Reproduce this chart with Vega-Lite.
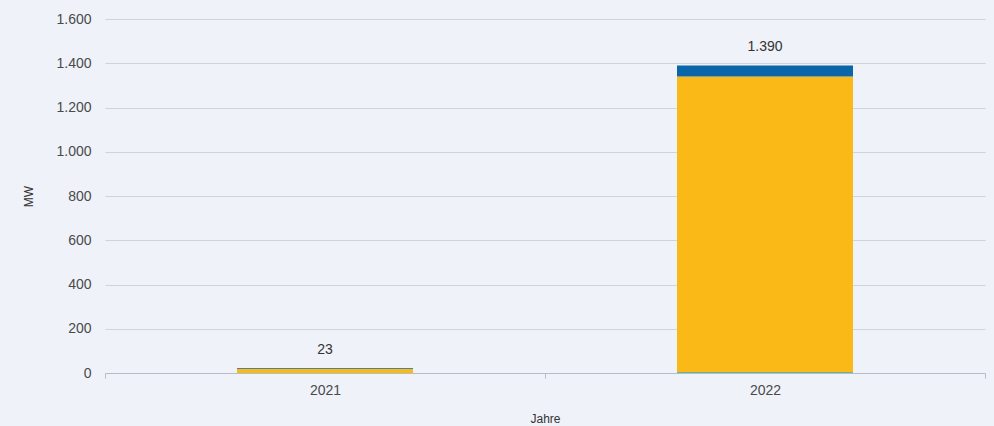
{
  "$schema": "https://vega.github.io/schema/vega-lite/v6.json",
  "autosize": {"type": "none"},
  "width": 880,
  "height": 354,
  "padding": {"left": 105, "top": 19, "right": 9, "bottom": 53},
  "background": "#eff2f9",
  "config": {
    "view": {"stroke": null},
    "font": "Liberation Sans",
    "locale": {"number": {"decimal": ",", "thousands": ".", "grouping": [3], "currency": ["", " €"]}},
    "axis": {"labelFont": "Liberation Sans", "titleFont": "Liberation Sans", "labelColor": "#4a4a4a", "titleColor": "#333333", "labelFontSize": 14, "titleFontSize": 12, "titleFontWeight": "normal"}
  },
  "data": {
    "values": [
      {"Jahr": "2021", "Typ": "A", "order": 1, "MW": 0},
      {"Jahr": "2021", "Typ": "B", "order": 2, "MW": 19},
      {"Jahr": "2021", "Typ": "C", "order": 3, "MW": 4},
      {"Jahr": "2022", "Typ": "A", "order": 1, "MW": 5},
      {"Jahr": "2022", "Typ": "B", "order": 2, "MW": 1335},
      {"Jahr": "2022", "Typ": "C", "order": 3, "MW": 50}
    ]
  },
  "encoding": {
    "x": {
      "field": "Jahr", "type": "nominal", "title": "Jahre",
      "scale": {"paddingInner": 0, "paddingOuter": 0},
      "axis": {"labelAngle": 0, "domainColor": "#b8bcc8", "tickColor": "#b8bcc8", "tickBand": "extent", "tickSize": 5, "labelPadding": 5, "titlePadding": 16}
    }
  },
  "layer": [
    {
      "mark": {"type": "bar", "width": {"band": 0.4}},
      "encoding": {
        "y": {
          "field": "MW", "type": "quantitative", "aggregate": "sum", "stack": "zero", "title": "MW",
          "scale": {"domain": [0, 1600]},
          "axis": {"values": [0, 200, 400, 600, 800, 1000, 1200, 1400, 1600], "format": ",d", "domain": false, "ticks": false, "gridColor": "#cfd3dc", "labelPadding": 14, "titlePadding": 20}
        },
        "color": {
          "field": "Typ", "type": "nominal", "legend": null,
          "scale": {"domain": ["A", "B", "C"], "range": ["#5fb89a", "#fbb917", "#0a66a8"]}
        },
        "order": {"field": "order", "type": "quantitative"}
      }
    },
    {
      "transform": [{"aggregate": [{"op": "sum", "field": "MW", "as": "total"}], "groupby": ["Jahr"]}],
      "mark": {"type": "text", "baseline": "bottom", "dy": -11, "fontSize": 14, "color": "#333333"},
      "encoding": {
        "y": {"field": "total", "type": "quantitative"},
        "text": {"field": "total", "type": "quantitative", "format": ",d"}
      }
    }
  ]
}
